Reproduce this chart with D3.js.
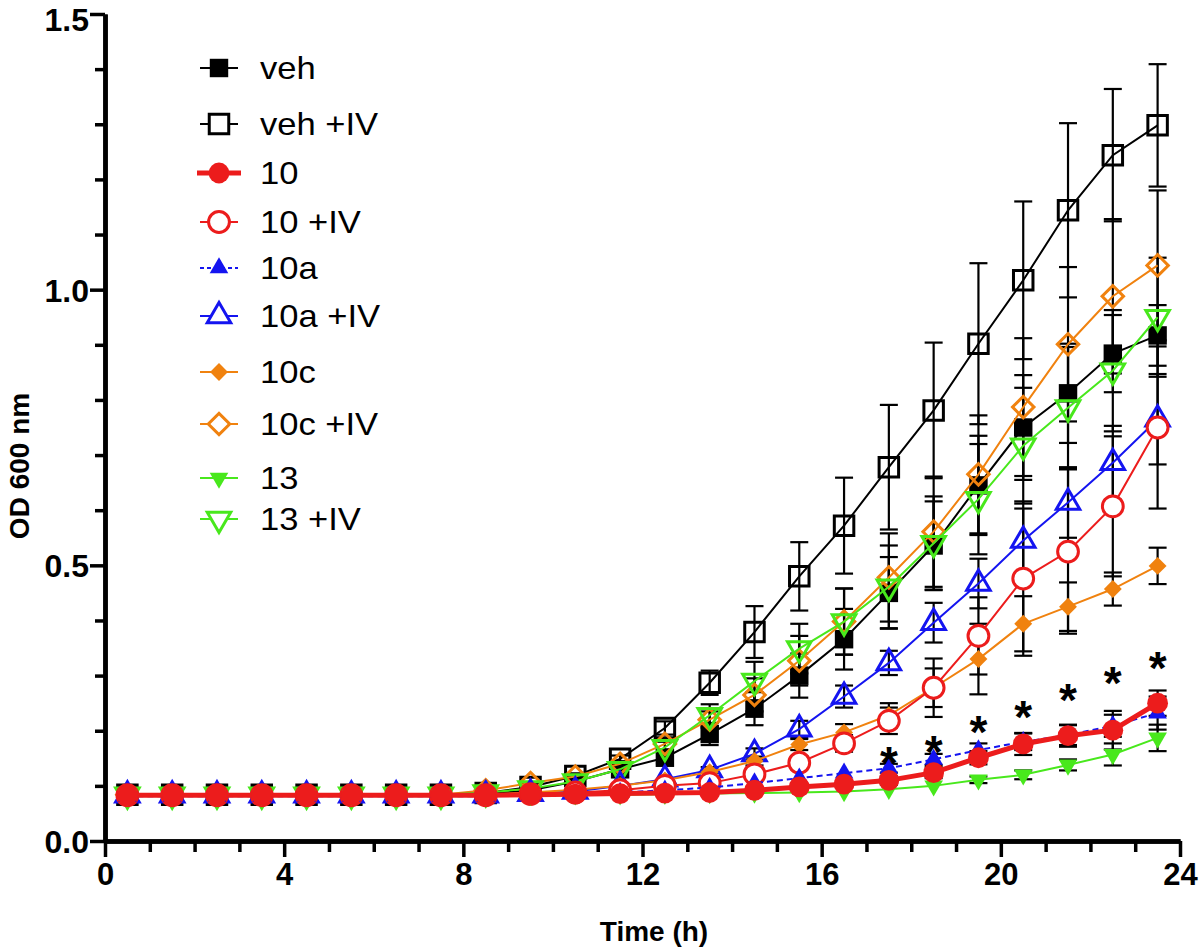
<!DOCTYPE html>
<html><head><meta charset="utf-8">
<script src="https://cdn.jsdelivr.net/npm/d3@7"></script>
<style>
html,body{margin:0;padding:0;background:#fff;}
svg{display:block;font-family:"Liberation Sans",Arial,Helvetica,sans-serif;}
</style></head>
<body>
<svg id="chart" width="1200" height="951"></svg>
<script>
// ---------- data ----------
const times = [0.5,1.5,2.5,3.5,4.5,5.5,6.5,7.5,8.5,9.5,10.5,11.5,12.5,13.5,14.5,15.5,16.5,17.5,18.5,19.5,20.5,21.5,22.5,23.5];
const seriesNames = ["veh","veh +IV","10","10 +IV","10a","10a +IV","10c","10c +IV","13","13 +IV"];

const vehMean   = [0.084,0.084,0.084,0.084,0.084,0.084,0.084,0.084,0.085,0.092,0.108,0.130,0.151,0.194,0.240,0.300,0.366,0.450,0.536,0.645,0.750,0.812,0.884,0.917];
const vehSD     = [0,0,0,0,0,0,0,0,0,0,0,0.005,0.010,0.020,0.030,0.040,0.055,0.065,0.080,0.090,0.095,0.090,0.070,0.055];
const vehIVMean = [0.084,0.084,0.084,0.084,0.084,0.084,0.084,0.084,0.087,0.098,0.118,0.149,0.205,0.287,0.379,0.480,0.572,0.678,0.781,0.902,1.017,1.144,1.244,1.298];
const vehIVSD   = [0,0,0,0,0,0,0,0,0,0,0,0.006,0.012,0.022,0.047,0.062,0.087,0.113,0.123,0.146,0.143,0.158,0.120,0.111];
const c10Mean   = [0.083,0.083,0.083,0.083,0.083,0.083,0.083,0.083,0.083,0.084,0.085,0.086,0.087,0.088,0.092,0.098,0.103,0.110,0.124,0.151,0.176,0.191,0.201,0.250];
const c10SD     = [0,0,0,0,0,0,0,0,0,0,0,0,0,0,0,0,0.004,0.008,0.010,0.012,0.020,0.020,0.035,0.023];
const c10IVMean = [0.083,0.083,0.083,0.083,0.083,0.083,0.083,0.083,0.083,0.085,0.088,0.092,0.100,0.105,0.121,0.142,0.177,0.218,0.278,0.372,0.476,0.525,0.607,0.750];
const c10IVSD   = [0,0,0,0,0,0,0,0,0,0,0,0,0,0.005,0.010,0.012,0.015,0.024,0.053,0.070,0.140,0.149,0.127,0.147];
const c10aMean  = [0.081,0.081,0.081,0.081,0.081,0.081,0.081,0.081,0.081,0.083,0.085,0.088,0.092,0.097,0.105,0.114,0.123,0.132,0.148,0.165,0.180,0.192,0.209,0.232];
const c10aSD    = [0,0,0,0,0,0,0,0,0,0,0,0,0,0,0,0,0,0.008,0.010,0.012,0.015,0.018,0.020,0.030];
const c10aIVMean= [0.083,0.083,0.083,0.083,0.083,0.083,0.083,0.083,0.083,0.086,0.090,0.100,0.112,0.129,0.158,0.203,0.262,0.323,0.396,0.467,0.545,0.614,0.686,0.765];
const c10aIVSD  = [0,0,0,0,0,0,0,0,0,0,0,0,0,0.005,0.010,0.015,0.020,0.022,0.036,0.045,0.058,0.064,0.067,0.082];
const c10cMean  = [0.084,0.084,0.084,0.084,0.084,0.084,0.084,0.084,0.084,0.088,0.093,0.100,0.110,0.125,0.145,0.175,0.197,0.228,0.278,0.330,0.394,0.425,0.457,0.499];
const c10cSD    = [0,0,0,0,0,0,0,0,0,0,0,0,0,0,0.008,0.010,0.015,0.022,0.035,0.064,0.050,0.044,0.030,0.033];
const c10cIVMean= [0.084,0.084,0.084,0.084,0.084,0.084,0.084,0.084,0.092,0.105,0.117,0.140,0.176,0.220,0.265,0.327,0.398,0.478,0.561,0.665,0.787,0.901,0.988,1.044];
const c10cIVSD  = [0,0,0,0,0,0,0,0,0,0,0,0,0.010,0.015,0.030,0.045,0.060,0.080,0.100,0.107,0.125,0.140,0.140,0.136];
const c13Mean   = [0.083,0.083,0.083,0.083,0.083,0.083,0.083,0.083,0.083,0.083,0.084,0.084,0.085,0.086,0.087,0.088,0.090,0.094,0.100,0.111,0.120,0.138,0.157,0.187];
const c13SD     = [0,0,0,0,0,0,0,0,0,0,0,0,0,0,0,0,0,0,0,0.006,0.008,0.010,0.020,0.024];
const c13IVMean = [0.084,0.084,0.084,0.084,0.084,0.084,0.084,0.084,0.088,0.095,0.108,0.130,0.170,0.228,0.290,0.349,0.398,0.461,0.540,0.620,0.717,0.786,0.853,0.950];
const c13IVSD   = [0,0,0,0,0,0,0,0,0,0,0,0,0.010,0.020,0.035,0.045,0.060,0.075,0.085,0.100,0.105,0.110,0.110,0.108];

const starTimes  = [17.5,18.5,19.5,20.5,21.5,22.5,23.5];
const starValues = [0.158,0.178,0.214,0.242,0.272,0.303,0.330];

const xTicksMajor = [0,4,8,12,16,20,24];
const yTicksMajor = [0,0.5,1.0,1.5];

// ---------- styles ----------
const RED="#ec1c1c", BLUE="#1414f0", ORANGE="#f0820f", GREEN="#48e81c";
const series = [
  {name:"veh +IV", mean:vehIVMean, sd:vehIVSD, color:"#000", shape:"square", filled:false, lw:2, size:380},
  {name:"veh", mean:vehMean, sd:vehSD, color:"#000", shape:"square", filled:true, lw:2, size:340},
  {name:"10c +IV", mean:c10cIVMean, sd:c10cIVSD, color:ORANGE, shape:"diamond", filled:false, lw:2, size:230},
  {name:"13 +IV", mean:c13IVMean, sd:c13IVSD, color:GREEN, shape:"down", filled:false, lw:2, size:240},
  {name:"10a +IV", mean:c10aIVMean, sd:c10aIVSD, color:BLUE, shape:"up", filled:false, lw:2, size:240},
  {name:"10c", mean:c10cMean, sd:c10cSD, color:ORANGE, shape:"diamond", filled:true, lw:2, size:160},
  {name:"10 +IV", mean:c10IVMean, sd:c10IVSD, color:RED, shape:"circle", filled:false, lw:2, size:340},
  {name:"13", mean:c13Mean, sd:c13SD, color:GREEN, shape:"down", filled:true, lw:2, size:150},
  {name:"10a", mean:c10aMean, sd:c10aSD, color:BLUE, shape:"up", filled:true, lw:2, size:150, dash:"6,4"},
  {name:"10", mean:c10Mean, sd:c10SD, color:RED, shape:"circle", filled:true, lw:5, size:340}
];
const legendY = [68,124,173,222,268,316,372,424,478,519];

// ---------- chart ----------
const svg = d3.select("#chart");
const x = d3.scaleLinear().domain([0,24]).range([105,1180]);
const y = d3.scaleLinear().domain([0,1.5]).range([841,14]);

function symPath(s){
  const t = s.shape==="square"?d3.symbolSquare: s.shape==="circle"?d3.symbolCircle:
            s.shape==="diamond"?d3.symbolSquare:d3.symbolTriangle;
  return d3.symbol().type(t).size(s.size)();
}
function symRot(s){ return s.shape==="diamond"?45: s.shape==="down"?180:0; }

// error bars
const eb = svg.append("g").attr("stroke","#000").attr("stroke-width",2.2).attr("fill","none");
series.forEach(s=>{
  times.forEach((t,i)=>{
    const sd=s.sd[i]; if(sd<=0.003) return;
    const cx=x(t), y1=y(s.mean[i]+sd), y2=y(s.mean[i]-sd);
    eb.append("line").attr("x1",cx).attr("x2",cx).attr("y1",y1).attr("y2",y2);
    eb.append("line").attr("x1",cx-9).attr("x2",cx+9).attr("y1",y1).attr("y2",y1);
    eb.append("line").attr("x1",cx-9).attr("x2",cx+9).attr("y1",y2).attr("y2",y2);
  });
});

// lines + markers
const line = d3.line().x(d=>x(d[0])).y(d=>y(d[1]));
series.forEach(s=>{
  const pts = times.map((t,i)=>[t,s.mean[i]]);
  svg.append("path").attr("d",line(pts)).attr("fill","none").attr("stroke",s.color)
    .attr("stroke-width",s.lw).attr("stroke-dasharray",s.dash||null);
  svg.append("g").selectAll("path").data(pts).join("path")
    .attr("d",symPath(s))
    .attr("transform",d=>`translate(${x(d[0])},${y(d[1])}) rotate(${symRot(s)})`)
    .attr("fill", s.filled? s.color : (s.shape==="circle"?"#fff":"none"))
    .attr("stroke", s.color).attr("stroke-width", s.filled?0:3);
});

// asterisks
svg.append("g").selectAll("text").data(starTimes.map((t,i)=>[t,starValues[i]])).join("text")
  .attr("x",d=>x(d[0])).attr("y",d=>y(d[1])+25).attr("text-anchor","middle")
  .attr("font-size",46).attr("font-weight","bold").text("*");

// axes
const xAxis = svg.append("g").attr("transform","translate(0,841)")
  .call(d3.axisBottom(x).tickValues(xTicksMajor).tickSize(16).tickSizeOuter(0).tickPadding(6).tickFormat(d3.format("d")));
const xMinor = svg.append("g").attr("transform","translate(0,841)")
  .call(d3.axisBottom(x).tickValues(d3.range(0,25,1).filter(v=>v%4!==0)).tickSize(11).tickSizeOuter(0).tickFormat(""));
const yAxis = svg.append("g").attr("transform","translate(105,0)")
  .call(d3.axisLeft(y).tickValues(yTicksMajor).tickSize(15).tickSizeOuter(0).tickPadding(1).tickFormat(d3.format(".1f")));
const yMinor = svg.append("g").attr("transform","translate(105,0)")
  .call(d3.axisLeft(y).tickValues([0.1,0.2,0.3,0.4,0.6,0.7,0.8,0.9,1.1,1.2,1.3,1.4]).tickSize(10).tickSizeOuter(0).tickFormat(""));
[xAxis,xMinor,yAxis,yMinor].forEach(g=>{
  g.select(".domain").attr("stroke","#000").attr("stroke-width",4.5);
  g.selectAll(".tick line").attr("stroke","#000").attr("stroke-width",3.5);
  g.selectAll(".tick text").attr("fill","#000").attr("font-weight","bold")
    .attr("font-family","'Liberation Sans',Arial,sans-serif");
});
xAxis.selectAll(".tick text").attr("font-size",31);
yAxis.selectAll(".tick text").attr("font-size",32).attr("dy","0.36em")
  .attr("y", d => d===1.5 ? 5 : 0);

// axis titles
svg.append("text").attr("x",654).attr("y",941).attr("text-anchor","middle")
  .attr("font-size",28).attr("font-weight","bold").text("Time (h)");
svg.append("text").attr("transform","translate(29,466) rotate(-90)").attr("text-anchor","middle")
  .attr("font-size",28).attr("font-weight","bold").text("OD 600 nm");

// legend (in original order)
const legOrder = seriesNames.map(n=>series.find(s=>s.name===n));
const leg = svg.append("g");
legOrder.forEach((s,i)=>{
  const ly = legendY[i];
  const g = leg.append("g").attr("transform",`translate(0,${ly})`);
  g.append("line").attr("x1", s.lw>3?197:200).attr("x2", s.lw>3?241:238).attr("y1",0).attr("y2",0)
    .attr("stroke",s.color).attr("stroke-width",s.lw).attr("stroke-dasharray",s.dash?"4,3":null);
  g.append("path").attr("d",symPath(s)).attr("transform",`translate(219,0) rotate(${symRot(s)})`)
    .attr("fill", s.filled? s.color : "#fff").attr("stroke",s.color).attr("stroke-width", s.filled?0:3);
  g.append("text").attr("transform","translate(260,11) scale(1.08,1)").attr("font-size",32)
    .attr("fill","#000").text(s.name);
});
</script>
</body></html>
